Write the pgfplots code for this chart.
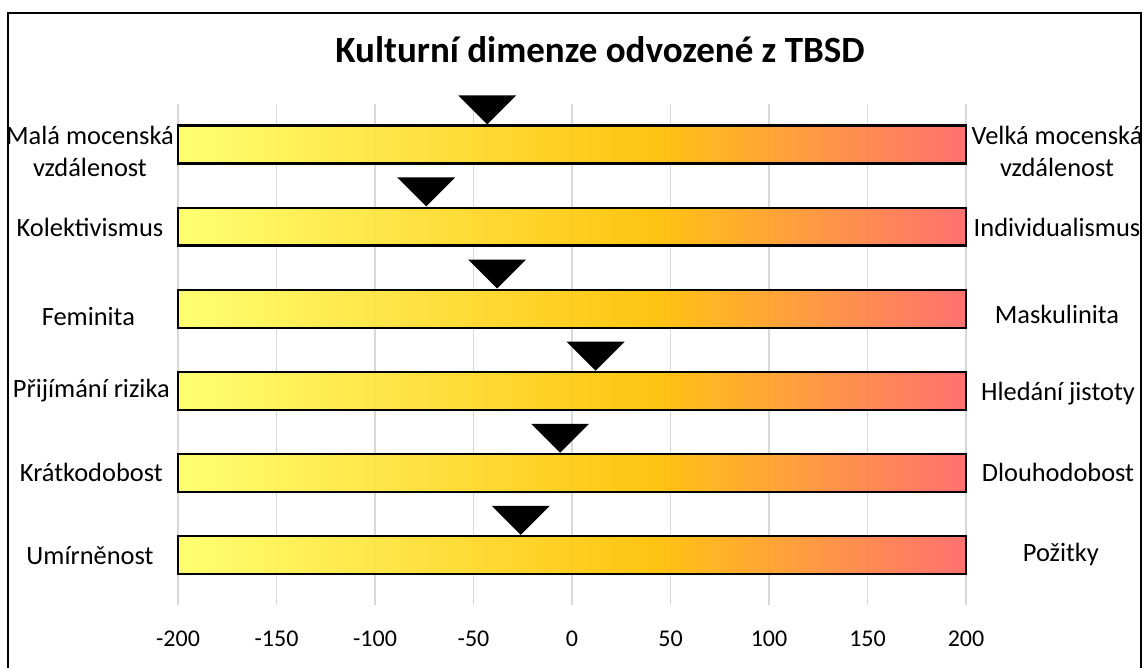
\documentclass[border=0pt]{standalone}
\usepackage{fontspec}
\setmainfont{Carlito}
\usepackage{pgfplots}
\pgfplotsset{compat=1.18}
\definecolor{cA}{RGB}{255,255,102}
\definecolor{cB}{RGB}{255,192,0}
\definecolor{cC}{RGB}{255,102,102}
\definecolor{gridc}{RGB}{217,217,217}
\pgfdeclarehorizontalshading{barshade}{100bp}{color(0bp)=(cA); color(25bp)=(cA); color(55bp)=(cB); color(75bp)=(cC); color(100bp)=(cC)}
\pgfdeclareplotmark{dtri}{%
  \pgfpathmoveto{\pgfpoint{0pt}{0pt}}%
  \pgfpathlineto{\pgfpoint{-14.5pt}{14.5pt}}%
  \pgfpathlineto{\pgfpoint{14.5pt}{14.5pt}}%
  \pgfpathclose
  \pgfusepathqfill}
\begin{document}
\begin{tikzpicture}
\useasboundingbox (0,0) rectangle (572pt,334pt);
\draw[line width=1pt] (4pt,-3pt) -- (4pt,327.5pt) -- (570.5pt,327.5pt) -- (570.5pt,-3pt);
\node[font=\fontsize{18.5}{22}\selectfont\bfseries] at (300pt,309pt) {Kulturní dimenze odvozené z TBSD};
\begin{axis}[
  at={(89pt,31.5pt)}, anchor=south west,
  width=394pt, height=250.5pt, scale only axis,
  xmin=-200, xmax=200, ymin=0.391, ymax=6.493,
  axis line style={draw=none},
  xtick={-200,-150,-100,-50,0,50,100,150,200},
  xticklabels={-200,-150,-100,-50,0,50,100,150,200},
  ytick=\empty,
  major tick length=0pt,
  xmajorgrids, grid style={gridc, line width=0.75pt},
  xticklabel style={font=\fontsize{12}{14}\selectfont, anchor=base, yshift=-20.5pt, inner sep=0pt},
  clip=false,
]
\pgfplotsinvokeforeach{1,2,3,4,5,6}{
  \addplot[draw=black, line width=1.1pt, shading=barshade, fill opacity=0.93] coordinates {(-200,#1-0.231) (200,#1-0.231) (200,#1+0.231) (-200,#1+0.231)} -- cycle;
}
\addplot[only marks, mark=dtri, mark options={fill=black}] coordinates {
(-43,6.245) (-74,5.245) (-38,4.245) (12,3.245) (-6,2.245) (-26,1.245)};
\begin{scope}[every node/.style={font=\fontsize{13.2}{16}\selectfont, align=center, inner sep=0pt}]
\node at (axis cs:-244.7,5.92) {Malá mocenská\\vzdálenost};
\node at (axis cs:-244.7,4.99) {Kolektivismus};
\node at (axis cs:-245.5,3.91) {Feminita};
\node at (axis cs:-244.0,3.0) {Přijímání rizika};
\node at (axis cs:-244.0,2.0) {Krátkodobost};
\node at (axis cs:-244.7,0.99) {Umírněnost};
\node at (axis cs:246.2,5.92) {Velká mocenská\\vzdálenost};
\node at (axis cs:246.2,4.99) {Individualismus};
\node at (axis cs:246.2,3.93) {Maskulinita};
\node at (axis cs:246.7,2.97) {Hledání jistoty};
\node at (axis cs:246.7,2.0) {Dlouhodobost};
\node at (axis cs:248.2,1.01) {Požitky};
\end{scope}
\end{axis}
\end{tikzpicture}
\end{document}
